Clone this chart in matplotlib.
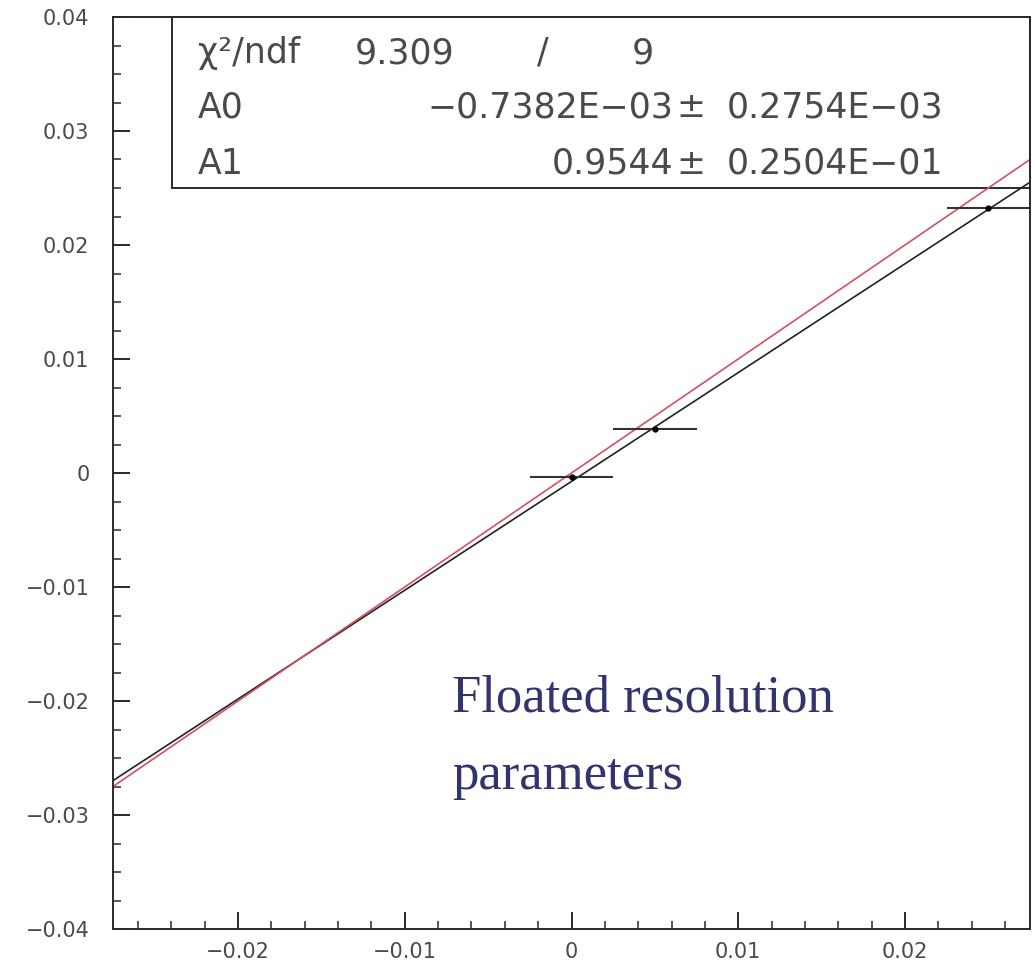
import numpy as np
import matplotlib.pyplot as plt
from matplotlib.patches import Rectangle
from matplotlib.ticker import MultipleLocator

# ==============================================================================
# Data
# ==============================================================================
pts_x = [0.0, 0.005, 0.025]
pts_y = [-0.00035, 0.00386, 0.02325]
pts_xerr = [0.0025, 0.0025, 0.0025]

# fit result from the stats box, plus the y = x reference line
fit_a0 = -0.7382e-03
fit_a1 = 0.9544
ref_a0 = 0.0
ref_a1 = 1.0

xticks = [-0.02, -0.01, 0.0, 0.01, 0.02]
xtick_labels = ["\u22120.02", "\u22120.01", "0", "0.01", "0.02"]
yticks = [-0.04, -0.03, -0.02, -0.01, 0.0, 0.01, 0.02, 0.03, 0.04]
ytick_labels = ["\u22120.04", "\u22120.03", "\u22120.02", "\u22120.01", "0",
                "0.01", "0.02", "0.03", "0.04"]

stat_rows = [
    ("\u03c7\u00b2/ndf", "9.309", "/", "9"),
    ("A0", "\u22120.7382E\u221203", "\u00b1", "0.2754E\u221203"),
    ("A1", "0.9544", "\u00b1", "0.2504E\u221201"),
]
note_lines = ["Floated resolution", "parameters"]

# ==============================================================================
# Figure
# ==============================================================================
W, H = 1035, 966
fig = plt.figure(figsize=(W / 100, H / 100), dpi=100)
ax_l, ax_r, ax_t, ax_b = 113, 1030, 17, 929
ax = fig.add_axes([ax_l / W, 1 - ax_b / H, (ax_r - ax_l) / W, (ax_b - ax_t) / H])

ax.set_xlim(-0.0275, 0.0275)
ax.set_ylim(-0.04, 0.04)

ink = "#2a2a2a"
tick_col = "#4a4a4a"

# stats box (drawn under the lines, as in the reference)
ax.add_patch(Rectangle((59 / 917, (929 - 188) / 912), 1 - 59 / 917, 1 - (929 - 188) / 912,
                       transform=ax.transAxes, facecolor="white", edgecolor=ink,
                       linewidth=1.4, zorder=1, clip_on=False))

ax.axline((0, fit_a0), slope=fit_a1, color="#222222", lw=1.2, zorder=3)
ax.axline((0, ref_a0), slope=ref_a1, color="#d4505e", lw=1.2, zorder=3)

ax.errorbar(pts_x, pts_y, xerr=pts_xerr, fmt="o", ms=3.5, color="black",
            ecolor="#333333", elinewidth=1.5, capsize=0, zorder=4, clip_on=True)

# axis styling, ROOT-like ticks on the inside
for s in ax.spines.values():
    s.set_color(ink)
    s.set_linewidth(1.4)
    s.set_zorder(5)
ax.set_xticks(xticks)
ax.set_xticklabels(xtick_labels)
ax.set_yticks(yticks)
ax.set_yticklabels(ytick_labels)
ax.xaxis.set_minor_locator(MultipleLocator(0.002))
ax.yaxis.set_minor_locator(MultipleLocator(0.0025))
ax.tick_params(which="both", direction="in", top=False, right=False,
               colors=ink, labelcolor=tick_col, labelsize=15)
ax.tick_params(which="major", length=12, width=1.4)
ax.tick_params(which="minor", length=6, width=1.1)
ax.tick_params(axis="y", pad=17)
ax.tick_params(axis="x", pad=9)

# stats box text
def fx(px):
    return (px - ax_l) / (ax_r - ax_l)

def fy(py):
    return (ax_b - py) / (ax_b - ax_t)

box_font = dict(fontsize=25, color="#4a4a4a", transform=ax.transAxes,
                va="baseline", zorder=6)
baselines = [63, 117, 174]
for (name, val, sep, err), base in zip(stat_rows, baselines):
    ax.text(fx(198), fy(base), name, ha="left", **box_font)
    if sep == "/":
        ax.text(fx(355), fy(base), val, ha="left", **box_font)
        ax.text(fx(543), fy(base), sep, ha="center", **box_font)
        ax.text(fx(643), fy(base), err, ha="center", **box_font)
    else:
        ax.text(fx(673), fy(base), val, ha="right", **box_font)
        ax.text(fx(691), fy(base), sep, ha="center", **box_font)
        ax.text(fx(727), fy(base), err, ha="left", **box_font)

# handwritten-style note
note_font = dict(fontsize=38, color="#33346e", transform=ax.transAxes,
                 ha="left", va="baseline",
                 family=["Liberation Serif", "DejaVu Serif"])
ax.text(fx(452), fy(712), note_lines[0], **note_font)
ax.text(fx(452), fy(789), note_lines[1], **note_font)

fig.savefig("out.png", dpi=100, facecolor="white")
